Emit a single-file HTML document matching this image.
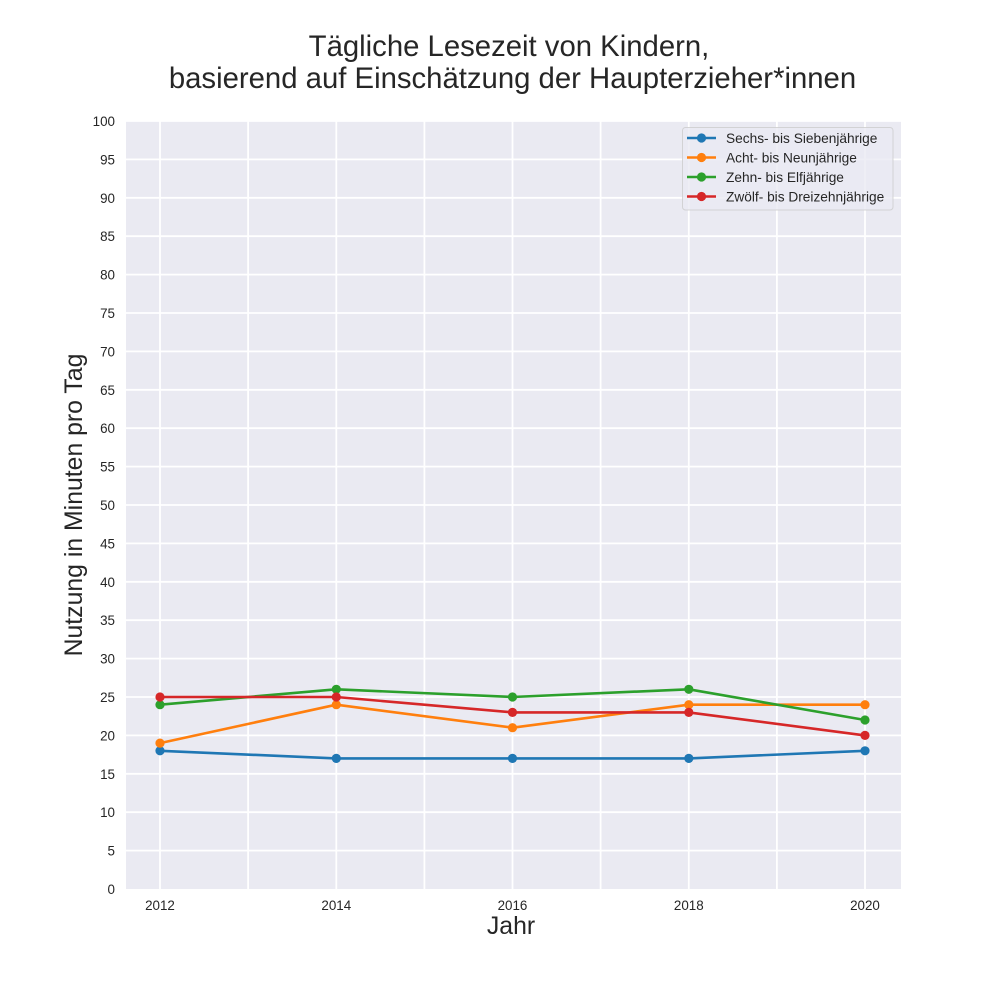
<!DOCTYPE html>
<html>
<head>
<meta charset="utf-8">
<style>
html,body{margin:0;padding:0;background:#fff;}
svg{display:block;}
text{font-family:"Liberation Sans",Arial,sans-serif;fill:#262626;}
</style>
</head>
<body>
<svg width="1000" height="1000" viewBox="0 0 1000 1000" xmlns="http://www.w3.org/2000/svg">
<rect x="0" y="0" width="1000" height="1000" fill="#ffffff"/>
<!-- title -->
<text x="509" y="56" font-size="29.3" text-anchor="middle">Tägliche Lesezeit von Kindern,</text>
<text x="512.5" y="88" font-size="29.3" text-anchor="middle">basierend auf Einschätzung der Haupterzieher*innen</text>
<!-- plot area -->
<rect x="126" y="121" width="775" height="768" fill="#EAEAF2"/>
<g stroke="#ffffff" stroke-width="1.8">
<line x1="126" x2="901" y1="121" y2="121"/>
<line x1="126" x2="901" y1="159.4" y2="159.4"/>
<line x1="126" x2="901" y1="197.8" y2="197.8"/>
<line x1="126" x2="901" y1="236.2" y2="236.2"/>
<line x1="126" x2="901" y1="274.6" y2="274.6"/>
<line x1="126" x2="901" y1="313" y2="313"/>
<line x1="126" x2="901" y1="351.4" y2="351.4"/>
<line x1="126" x2="901" y1="389.8" y2="389.8"/>
<line x1="126" x2="901" y1="428.2" y2="428.2"/>
<line x1="126" x2="901" y1="466.6" y2="466.6"/>
<line x1="126" x2="901" y1="505" y2="505"/>
<line x1="126" x2="901" y1="543.4" y2="543.4"/>
<line x1="126" x2="901" y1="581.8" y2="581.8"/>
<line x1="126" x2="901" y1="620.2" y2="620.2"/>
<line x1="126" x2="901" y1="658.6" y2="658.6"/>
<line x1="126" x2="901" y1="697" y2="697"/>
<line x1="126" x2="901" y1="735.4" y2="735.4"/>
<line x1="126" x2="901" y1="773.8" y2="773.8"/>
<line x1="126" x2="901" y1="812.2" y2="812.2"/>
<line x1="126" x2="901" y1="850.6" y2="850.6"/>
<line x1="160" x2="160" y1="121" y2="889"/>
<line x1="248.1" x2="248.1" y1="121" y2="889"/>
<line x1="336.3" x2="336.3" y1="121" y2="889"/>
<line x1="424.4" x2="424.4" y1="121" y2="889"/>
<line x1="512.5" x2="512.5" y1="121" y2="889"/>
<line x1="600.6" x2="600.6" y1="121" y2="889"/>
<line x1="688.8" x2="688.8" y1="121" y2="889"/>
<line x1="776.9" x2="776.9" y1="121" y2="889"/>
<line x1="865" x2="865" y1="121" y2="889"/>
</g>
<!-- y tick labels -->
<g font-size="13.4" text-anchor="end">
<text x="115" y="126">100</text>
<text x="115" y="164.4">95</text>
<text x="115" y="202.8">90</text>
<text x="115" y="241.2">85</text>
<text x="115" y="279.6">80</text>
<text x="115" y="318">75</text>
<text x="115" y="356.4">70</text>
<text x="115" y="394.8">65</text>
<text x="115" y="433.2">60</text>
<text x="115" y="471.6">55</text>
<text x="115" y="510">50</text>
<text x="115" y="548.4">45</text>
<text x="115" y="586.8">40</text>
<text x="115" y="625.2">35</text>
<text x="115" y="663.6">30</text>
<text x="115" y="702">25</text>
<text x="115" y="740.4">20</text>
<text x="115" y="778.8">15</text>
<text x="115" y="817.2">10</text>
<text x="115" y="855.6">5</text>
<text x="115" y="894">0</text>
</g>
<!-- x tick labels -->
<g font-size="13.4" text-anchor="middle">
<text x="160" y="910">2012</text>
<text x="336.3" y="910">2014</text>
<text x="512.5" y="910">2016</text>
<text x="688.8" y="910">2018</text>
<text x="865" y="910">2020</text>
</g>
<!-- axis labels -->
<text x="511" y="934" font-size="24.8" text-anchor="middle">Jahr</text>
<text transform="translate(82,505) rotate(-90)" x="0" y="0" font-size="24.8" text-anchor="middle">Nutzung in Minuten pro Tag</text>
<!-- series -->
<g stroke-width="2.6" fill="none" stroke-linejoin="round" stroke-linecap="round">
<polyline stroke="#1f77b4" points="160,750.8 336.3,758.4 512.5,758.4 688.8,758.4 865,750.8"/>
<polyline stroke="#ff7f0e" points="160,743.1 336.3,704.7 512.5,727.7 688.8,704.7 865,704.7"/>
<polyline stroke="#2ca02c" points="160,704.7 336.3,689.3 512.5,697 688.8,689.3 865,720"/>
<polyline stroke="#d62728" points="160,697 336.3,697 512.5,712.4 688.8,712.4 865,735.4"/>
</g>
<g fill="#1f77b4">
<circle cx="160" cy="750.8" r="4.6"/><circle cx="336.3" cy="758.4" r="4.6"/><circle cx="512.5" cy="758.4" r="4.6"/><circle cx="688.8" cy="758.4" r="4.6"/><circle cx="865" cy="750.8" r="4.6"/>
</g>
<g fill="#ff7f0e">
<circle cx="160" cy="743.1" r="4.6"/><circle cx="336.3" cy="704.7" r="4.6"/><circle cx="512.5" cy="727.7" r="4.6"/><circle cx="688.8" cy="704.7" r="4.6"/><circle cx="865" cy="704.7" r="4.6"/>
</g>
<g fill="#2ca02c">
<circle cx="160" cy="704.7" r="4.6"/><circle cx="336.3" cy="689.3" r="4.6"/><circle cx="512.5" cy="697" r="4.6"/><circle cx="688.8" cy="689.3" r="4.6"/><circle cx="865" cy="720" r="4.6"/>
</g>
<g fill="#d62728">
<circle cx="160" cy="697" r="4.6"/><circle cx="336.3" cy="697" r="4.6"/><circle cx="512.5" cy="712.4" r="4.6"/><circle cx="688.8" cy="712.4" r="4.6"/><circle cx="865" cy="735.4" r="4.6"/>
</g>
<!-- legend -->
<rect x="682.5" y="127.5" width="210.5" height="82.5" rx="3" ry="3" fill="#EAEAF2" fill-opacity="0.8" stroke="#cccccc" stroke-opacity="0.8" stroke-width="1"/>
<g stroke-width="2.6">
<line x1="687" x2="716" y1="138" y2="138" stroke="#1f77b4"/>
<line x1="687" x2="716" y1="157.5" y2="157.5" stroke="#ff7f0e"/>
<line x1="687" x2="716" y1="177" y2="177" stroke="#2ca02c"/>
<line x1="687" x2="716" y1="196.5" y2="196.5" stroke="#d62728"/>
</g>
<circle cx="701.5" cy="138" r="4.6" fill="#1f77b4"/>
<circle cx="701.5" cy="157.5" r="4.6" fill="#ff7f0e"/>
<circle cx="701.5" cy="177" r="4.6" fill="#2ca02c"/>
<circle cx="701.5" cy="196.5" r="4.6" fill="#d62728"/>
<g font-size="13.7">
<text x="726" y="142.8">Sechs- bis Siebenjährige</text>
<text x="726" y="162.3">Acht- bis Neunjährige</text>
<text x="726" y="181.8">Zehn- bis Elfjährige</text>
<text x="726" y="201.3">Zwölf- bis Dreizehnjährige</text>
</g>
</svg>
</body>
</html>
